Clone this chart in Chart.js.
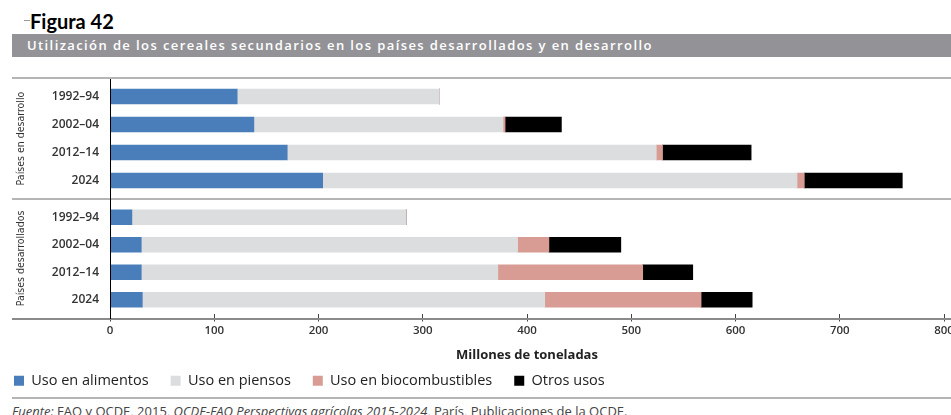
<!DOCTYPE html>
<html>
<head>
<meta charset="utf-8">
<script src="https://cdn.jsdelivr.net/npm/chart.js@4.4.1/dist/chart.umd.min.js"></script>
<style>
    html, body { margin: 0; padding: 0; background: #fff; }
    body { width: 951px; height: 415px; position: relative; overflow: hidden; font-family: "Open Sans", sans-serif; }
    #fig { position: absolute; left: 30px; top: 11px; font: bold 20px/20px Lato, sans-serif; color: #000; }
    #figTick { position: absolute; left: 24px; top: 20px; width: 6px; height: 1px; background: #999; }
    #banner { position: absolute; left: 12px; top: 34px; width: 939px; height: 23px; background: #939397; color: #fff;
              font: 600 13px/23px "Open Sans", sans-serif; letter-spacing: 1.4px; padding-left: 15px; box-sizing: border-box; white-space: nowrap; }
    .hline { position: absolute; left: 12px; width: 939px; height: 2px; background: #b5b5b5; z-index: 2; }
    #axisLine { position: absolute; left: 12px; top: 318px; width: 939px; height: 2px; background: #8a8a8a; z-index: 2; }
    #vline { position: absolute; left: 110px; top: 79px; width: 1px; height: 240px; background: #000; z-index: 3; }
    .panel { position: absolute; left: -8px; width: 980px; }
    #topPanel { top: 79px; height: 120px; }
    #bottomPanel { top: 199px; height: 199px; }
    #src { position: absolute; left: 12px; top: 403px; font: 13px/16px "Open Sans", sans-serif; color: #444; white-space: nowrap; }
</style>
</head>
<body>
<div id="figTick"></div>
<div id="fig">Figura 42</div>
<div id="banner">Utilización de los cereales secundarios en los países desarrollados y en desarrollo</div>
<div class="hline" style="top:77px"></div>
<div class="hline" style="top:198px"></div>
<div id="axisLine"></div>
<div id="vline"></div>
<div class="panel" id="topPanel"><canvas id="chartDev"></canvas></div>
<div class="panel" id="bottomPanel"><canvas id="chartInd"></canvas></div>
<div class="hline" style="top:397px"></div>
<div id="src"><i>Fuente:</i> FAO y OCDE, 2015, <i>OCDE-FAO Perspectivas agrícolas 2015-2024</i>, París, Publicaciones de la OCDE.</div>

<script>
// --- Data (millones de toneladas) ---
const periods = ['1992–94', '2002–04', '2012–14', '2024'];
const seriesNames = ['Uso en alimentos', 'Uso en piensos', 'Uso en biocombustibles', 'Otros usos'];
const seriesColors = ['#4a7ebb', '#dcdddf', '#d89c95', '#000000'];
const xTickValues = [0, 100, 200, 300, 400, 500, 600, 700, 800];

// Países en desarrollo
const devFood = [122, 138, 170, 204];
const devFeed = [194, 239, 354, 455];
const devBiofuel = [0, 2, 6, 7];
const devOther = [0, 54, 85, 94];

// Países desarrollados
const indFood = [21, 30, 30, 31];
const indFeed = [263, 361, 342, 386];
const indBiofuel = [0, 30, 139, 150];
const indOther = [0, 69, 48, 49];

const textColor = '#333';
const condensed = "'DejaVu Sans Condensed', 'Liberation Sans Narrow', 'Open Sans', sans-serif";

function buildDatasets(series) {
    return series.map((values, i) => ({
        label: seriesNames[i],
        data: values,
        backgroundColor: seriesColors[i],
        borderWidth: 0,
        barThickness: 15
    }));
}

// --- Helper: one panel (group of countries) ---
function makePanel(canvasId, groupTitle, series, withAxis) {
    new Chart(document.getElementById(canvasId), {
        type: 'bar',
        data: { labels: periods, datasets: buildDatasets(series) },
        options: {
            indexAxis: 'y',
            responsive: true,
            maintainAspectRatio: false,
            animation: false,
            layout: { padding: withAxis ? { top: 4.5, right: 28, bottom: 0, left: 0 } : { top: 3.5, right: 28, bottom: 4.5, left: 0 } },
            plugins: {
                tooltip: { enabled: false },
                legend: {
                    display: withAxis,
                    position: 'bottom',
                    align: 'start',
                    labels: {
                        boxWidth: 10, boxHeight: 10, padding: 22, color: '#222',
                        font: { family: 'Open Sans', size: 14.5 }
                    }
                }
            },
            scales: {
                x: {
                    display: withAxis,
                    stacked: true,
                    min: 0, max: 800,
                    afterBuildTicks: (s) => { s.ticks = xTickValues.map(v => ({ value: v })); },
                    border: { display: false },
                    grid: { display: true, drawOnChartArea: false, drawTicks: true, tickLength: 8, color: '#444' },
                    ticks: { color: textColor, padding: 2, maxRotation: 0, font: { family: 'Open Sans', size: 11.5, weight: '600' } },
                    title: {
                        display: true, text: 'Millones de toneladas', color: '#222',
                        font: { family: 'Open Sans', size: 13, weight: 'bold' },
                        padding: { top: 7.9, bottom: -11.3 }
                    }
                },
                y: {
                    stacked: true,
                    grid: { display: false, drawTicks: false },
                    border: { display: false },
                    ticks: { color: textColor, padding: 11, font: { family: 'Open Sans', size: 12, weight: '600' } },
                    title: {
                        display: true, text: groupTitle, color: '#333',
                        font: { family: condensed, size: 10.5 },
                        padding: { top: 23, bottom: 0 }
                    },
                    afterFit: (s) => { s.width = 118; s.paddingTop = 0; s.paddingBottom = 0; }
                }
            }
        }
    });
}

makePanel('chartDev', 'Países en desarrollo', [devFood, devFeed, devBiofuel, devOther], false);
makePanel('chartInd', 'Países desarrollados', [indFood, indFeed, indBiofuel, indOther], true);
</script>
</body>
</html>
